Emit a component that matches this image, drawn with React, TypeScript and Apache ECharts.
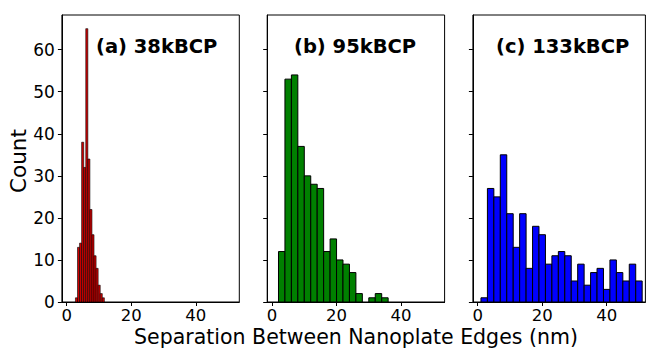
import React, { useEffect, useRef } from "react";
import * as echarts from "echarts";

// Histogram data (bin start, bin width, counts per bin)
const aStart = 2.7;
const aWidth = 0.64;
const aCounts = [1, 13, 14, 38, 32, 65, 34, 22, 16, 11, 8, 4, 2, 1];

const bStart = 2;
const bWidth = 2;
const bCounts = [12, 53, 54, 37, 30, 28, 27, 12, 15, 10, 9, 7, 2, 0, 1, 2, 1];

const cStart = 1;
const cWidth = 2;
const cCounts = [1, 27, 25, 35, 21, 13, 21, 8, 18, 16, 9, 11, 12, 11, 5, 9, 4, 7, 8, 3, 10, 7, 5, 9, 5];

const panelTitles = ["(a) 38kBCP", "(b) 95kBCP", "(c) 133kBCP"];
const xTicks = [0, 20, 40];
const yTicks = [0, 10, 20, 30, 40, 50, 60];
const xLabel = "Separation Between Nanoplate Edges (nm)";
const yLabel = "Count";

function toBins(start: number, width: number, counts: number[]) {
  return counts.map((c, i) => [start + i * width, start + (i + 1) * width, c]);
}

const FONT = "DejaVu Sans";

export default function App() {
  const ref = useRef<HTMLDivElement>(null);
  useEffect(() => {
    if (!ref.current) return;
    const chart = echarts.init(ref.current, undefined, { renderer: "svg" });
    const panels = [
      { left: 61.9, width: 177.4, xmax: 53.5, bins: toBins(aStart, aWidth, aCounts), color: "#d00000", lw: 0.6 },
      { left: 267.2, width: 177.4, xmax: 53.5, bins: toBins(bStart, bWidth, bCounts), color: "#008000", lw: 1 },
      { left: 472.9, width: 172.5, xmax: 52, bins: toBins(cStart, cWidth, cCounts), color: "#0000ff", lw: 1 },
    ];
    const top = 15;
    const height = 287;
    const grid = panels.map((p) => ({
      left: p.left,
      top,
      width: p.width,
      height,
      show: true,
      borderColor: "#000",
      borderWidth: 1,
      backgroundColor: "transparent",
    }));
    const xAxis = panels.map((p, i) => ({
      type: "value",
      gridIndex: i,
      min: -1.5,
      max: p.xmax,
      axisLine: { show: true, onZero: false, lineStyle: { color: "#000", width: 1 } },
      axisTick: { show: true, length: 4, customValues: xTicks, lineStyle: { color: "#000" } },
      axisLabel: {
        show: true,
        customValues: xTicks,
        fontSize: 16.5,
        lineHeight: 16,
        color: "#000",
        fontFamily: FONT,
        margin: 5,
      },
      splitLine: { show: false },
    }));
    const yAxis = panels.map((p, i) => ({
      type: "value",
      gridIndex: i,
      min: 0,
      max: 68.25,
      axisLine: { show: true, onZero: false, lineStyle: { color: "#000", width: 1 } },
      axisTick: { show: true, length: 4, customValues: yTicks, lineStyle: { color: "#000" } },
      axisLabel: { show: i === 0, customValues: yTicks, fontSize: 17, color: "#000", fontFamily: FONT, margin: 7 },
      splitLine: { show: false },
    }));
    const series = panels.map((p, i) => ({
      type: "custom",
      xAxisIndex: i,
      yAxisIndex: i,
      data: p.bins,
      encode: { x: [0, 1], y: 2 },
      renderItem: (params: any, api: any) => {
        const x0 = api.value(0);
        const x1 = api.value(1);
        const h = api.value(2);
        if (!h) return null;
        const p0 = api.coord([x0, h]);
        const p1 = api.coord([x1, 0]);
        return {
          type: "rect",
          shape: { x: p0[0], y: p0[1], width: p1[0] - p0[0], height: p1[1] - p0[1] },
          style: { fill: p.color, stroke: "#000", lineWidth: p.lw },
        };
      },
    }));
    const titlePos = [
      { x: 96, y: 46 },
      { x: 294, y: 46 },
      { x: 496, y: 46 },
    ];
    const graphic: any[] = panelTitles.map((t, i) => ({
      type: "text",
      x: titlePos[i].x,
      y: titlePos[i].y,
      z: 100,
      style: {
        text: t,
        font: `bold 19.5px '${FONT}'`,
        fill: "#000",
        align: "left",
        verticalAlign: "middle",
      },
    }));
    graphic.push({
      type: "text",
      x: 356,
      y: 337,
      style: {
        text: xLabel,
        font: `20.5px '${FONT}'`,
        lineHeight: 20,
        fill: "#000",
        align: "center",
        verticalAlign: "middle",
      },
    });
    graphic.push({
      type: "text",
      x: 18,
      y: 161,
      rotation: Math.PI / 2,
      style: { text: yLabel, font: `21.5px '${FONT}'`, fill: "#000", align: "center", verticalAlign: "middle" },
    });
    chart.setOption({
      animation: false,
      backgroundColor: "#fff",
      grid,
      xAxis,
      yAxis,
      series,
      graphic,
    });
    return () => chart.dispose();
  }, []);
  return (
    <div
      ref={ref}
      style={{ position: "fixed", left: 0, top: 0, width: 648, height: 348 }}
    />
  );
}
